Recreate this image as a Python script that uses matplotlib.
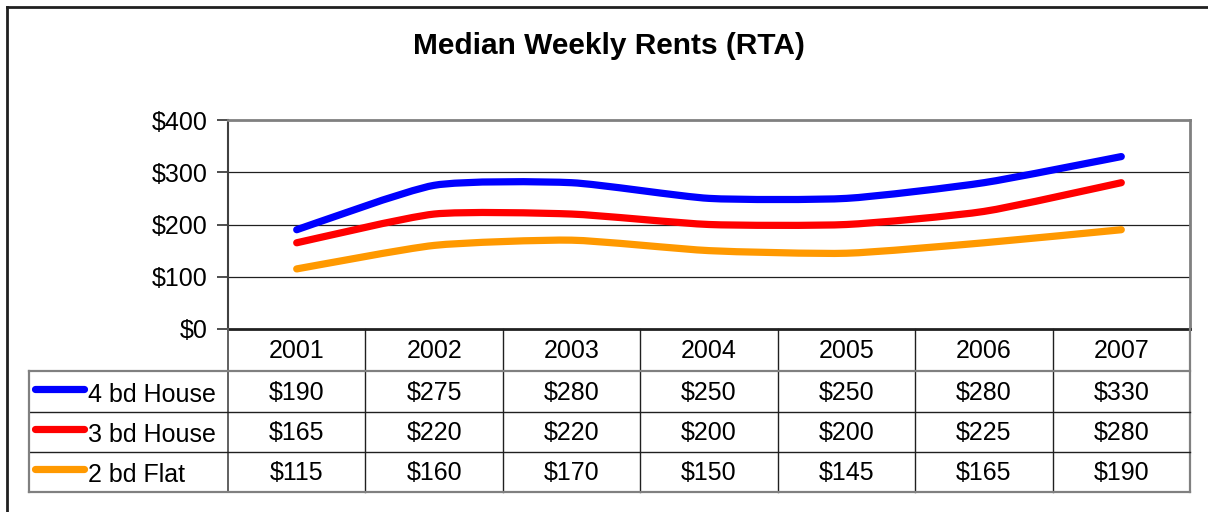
import numpy as np
import matplotlib
matplotlib.use("Agg")
import matplotlib.pyplot as plt
from matplotlib.path import Path
from matplotlib.patches import PathPatch
from matplotlib.lines import Line2D
from matplotlib.transforms import blended_transform_factory

plt.rcParams['font.family'] = ['Liberation Sans', 'DejaVu Sans']

# Dane
YEARS = ["2001", "2002", "2003", "2004", "2005", "2006", "2007"]
SERIES = ["4 bd House", "3 bd House", "2 bd Flat"]
HOUSE4 = [190, 275, 280, 250, 250, 280, 330]
HOUSE3 = [165, 220, 220, 200, 200, 225, 280]
FLAT2 = [115, 160, 170, 150, 145, 165, 190]
VALUES = [HOUSE4, HOUSE3, FLAT2]
COLORS = ["#0000FF", "#FF0000", "#FF9900"]
Y_TICKS = [0, 100, 200, 300, 400]

W, H = 1208, 512
FS = 18
fig = plt.figure(figsize=(W / 100, H / 100), dpi=100)


def fx(px):
    return px / W


def fy(py):
    return 1 - py / H


# obszar wykresu
left, right, top, bottom = 228, 1190, 120, 329
ax = fig.add_axes([fx(left), fy(bottom), fx(right - left), (bottom - top) / H])
ax.set_xlim(-0.5, len(YEARS) - 0.5)
ax.set_ylim(0, 400)
ax.set_yticks(Y_TICKS)
ax.set_yticklabels([f"${v}" for v in Y_TICKS], fontsize=FS)
ax.set_xticks([])
ax.tick_params(axis='y', direction='out', length=8, width=1.2, color='#303030', pad=7)
for v in Y_TICKS[1:-1]:
    ax.axhline(v, color='#202020', lw=0.9, zorder=1)
ax.spines['top'].set_color('#808080')
ax.spines['right'].set_color('#808080')
ax.spines['top'].set_linewidth(2)
ax.spines['right'].set_linewidth(2)
ax.spines['left'].set_color('#404040')
ax.spines['left'].set_linewidth(1.5)
ax.spines['bottom'].set_color('#202020')
ax.spines['bottom'].set_linewidth(2)


def smooth_path(xs, ys, k=10):
    # lekko wygładzona linia jak w Excelu (Bezier)
    pts = np.column_stack([xs, ys]).astype(float)
    verts = [pts[0]]
    codes = [Path.MOVETO]
    n = len(pts)
    for i in range(n - 1):
        p0 = pts[i - 1] if i > 0 else pts[i]
        p1 = pts[i]
        p2 = pts[i + 1]
        p3 = pts[i + 2] if i + 2 < n else pts[i + 1]
        c1 = p1 + (p2 - p0) / k
        c2 = p2 - (p3 - p1) / k
        verts += [c1, c2, p2]
        codes += [Path.CURVE4] * 3
    return Path(verts, codes)


x = np.arange(len(YEARS))
for vals, color in zip(VALUES, COLORS):
    patch = PathPatch(smooth_path(x, vals), facecolor='none', edgecolor=color,
                      lw=5.2, capstyle='round', joinstyle='round', zorder=3)
    ax.add_patch(patch)

# tytuł
fig.text(fx(609), fy(46), "Median Weekly Rents (RTA)", ha='center', va='center',
         fontsize=21.5, fontweight='bold')

# tabela danych
rows = [329, 371, 412, 452, 492]
tab_left = 29
bt = blended_transform_factory(ax.transData, fig.transFigure)


def hline(y, x0, x1, color, lw):
    fig.add_artist(Line2D([fx(x0), fx(x1)], [fy(y), fy(y)], color=color, lw=lw,
                          transform=fig.transFigure))


for i in range(len(YEARS) + 1):
    xb = i - 0.5
    color = '#808080' if i == len(YEARS) else '#202020'
    lw = 1.6 if i == len(YEARS) else 1.0
    if i == 0:
        color, lw = '#606060', 1.4
    fig.add_artist(Line2D([xb, xb], [fy(rows[0]), fy(rows[-1])], color=color, lw=lw,
                          transform=bt))

hline(rows[1], tab_left, right, '#808080', 1.6)
hline(rows[2], tab_left, right, '#202020', 1.0)
hline(rows[3], tab_left, right, '#202020', 1.0)
hline(rows[4], tab_left, right, '#808080', 1.6)
fig.add_artist(Line2D([fx(tab_left), fx(tab_left)], [fy(rows[1]), fy(rows[-1])],
                      color='#808080', lw=1.6, transform=fig.transFigure))

for i, year in enumerate(YEARS):
    fig.text(i, fy((rows[0] + rows[1]) / 2 + 1), year, transform=bt, ha='center',
             va='center', fontsize=FS)

for r, (name, vals, color) in enumerate(zip(SERIES, VALUES, COLORS)):
    yc = (rows[r + 1] + rows[r + 2]) / 2
    fig.add_artist(Line2D([fx(35), fx(84)], [fy(yc - 3), fy(yc - 3)], color=color,
                          lw=5.2, solid_capstyle='round', transform=fig.transFigure))
    fig.text(fx(88), fy(yc + 3), name, ha='left', va='center', fontsize=FS)
    for i, v in enumerate(vals):
        fig.text(i, fy(yc + 1), f"${v}", transform=bt, ha='center', va='center',
                 fontsize=FS)

# ramka wykresu
fig.add_artist(Line2D([fx(7), 1.0], [fy(7), fy(7)], color='#202020', lw=2,
                      transform=fig.transFigure))
fig.add_artist(Line2D([fx(7), fx(7)], [fy(7), 0.0], color='#202020', lw=2,
                      transform=fig.transFigure))

fig.savefig("out.png", dpi=100)
